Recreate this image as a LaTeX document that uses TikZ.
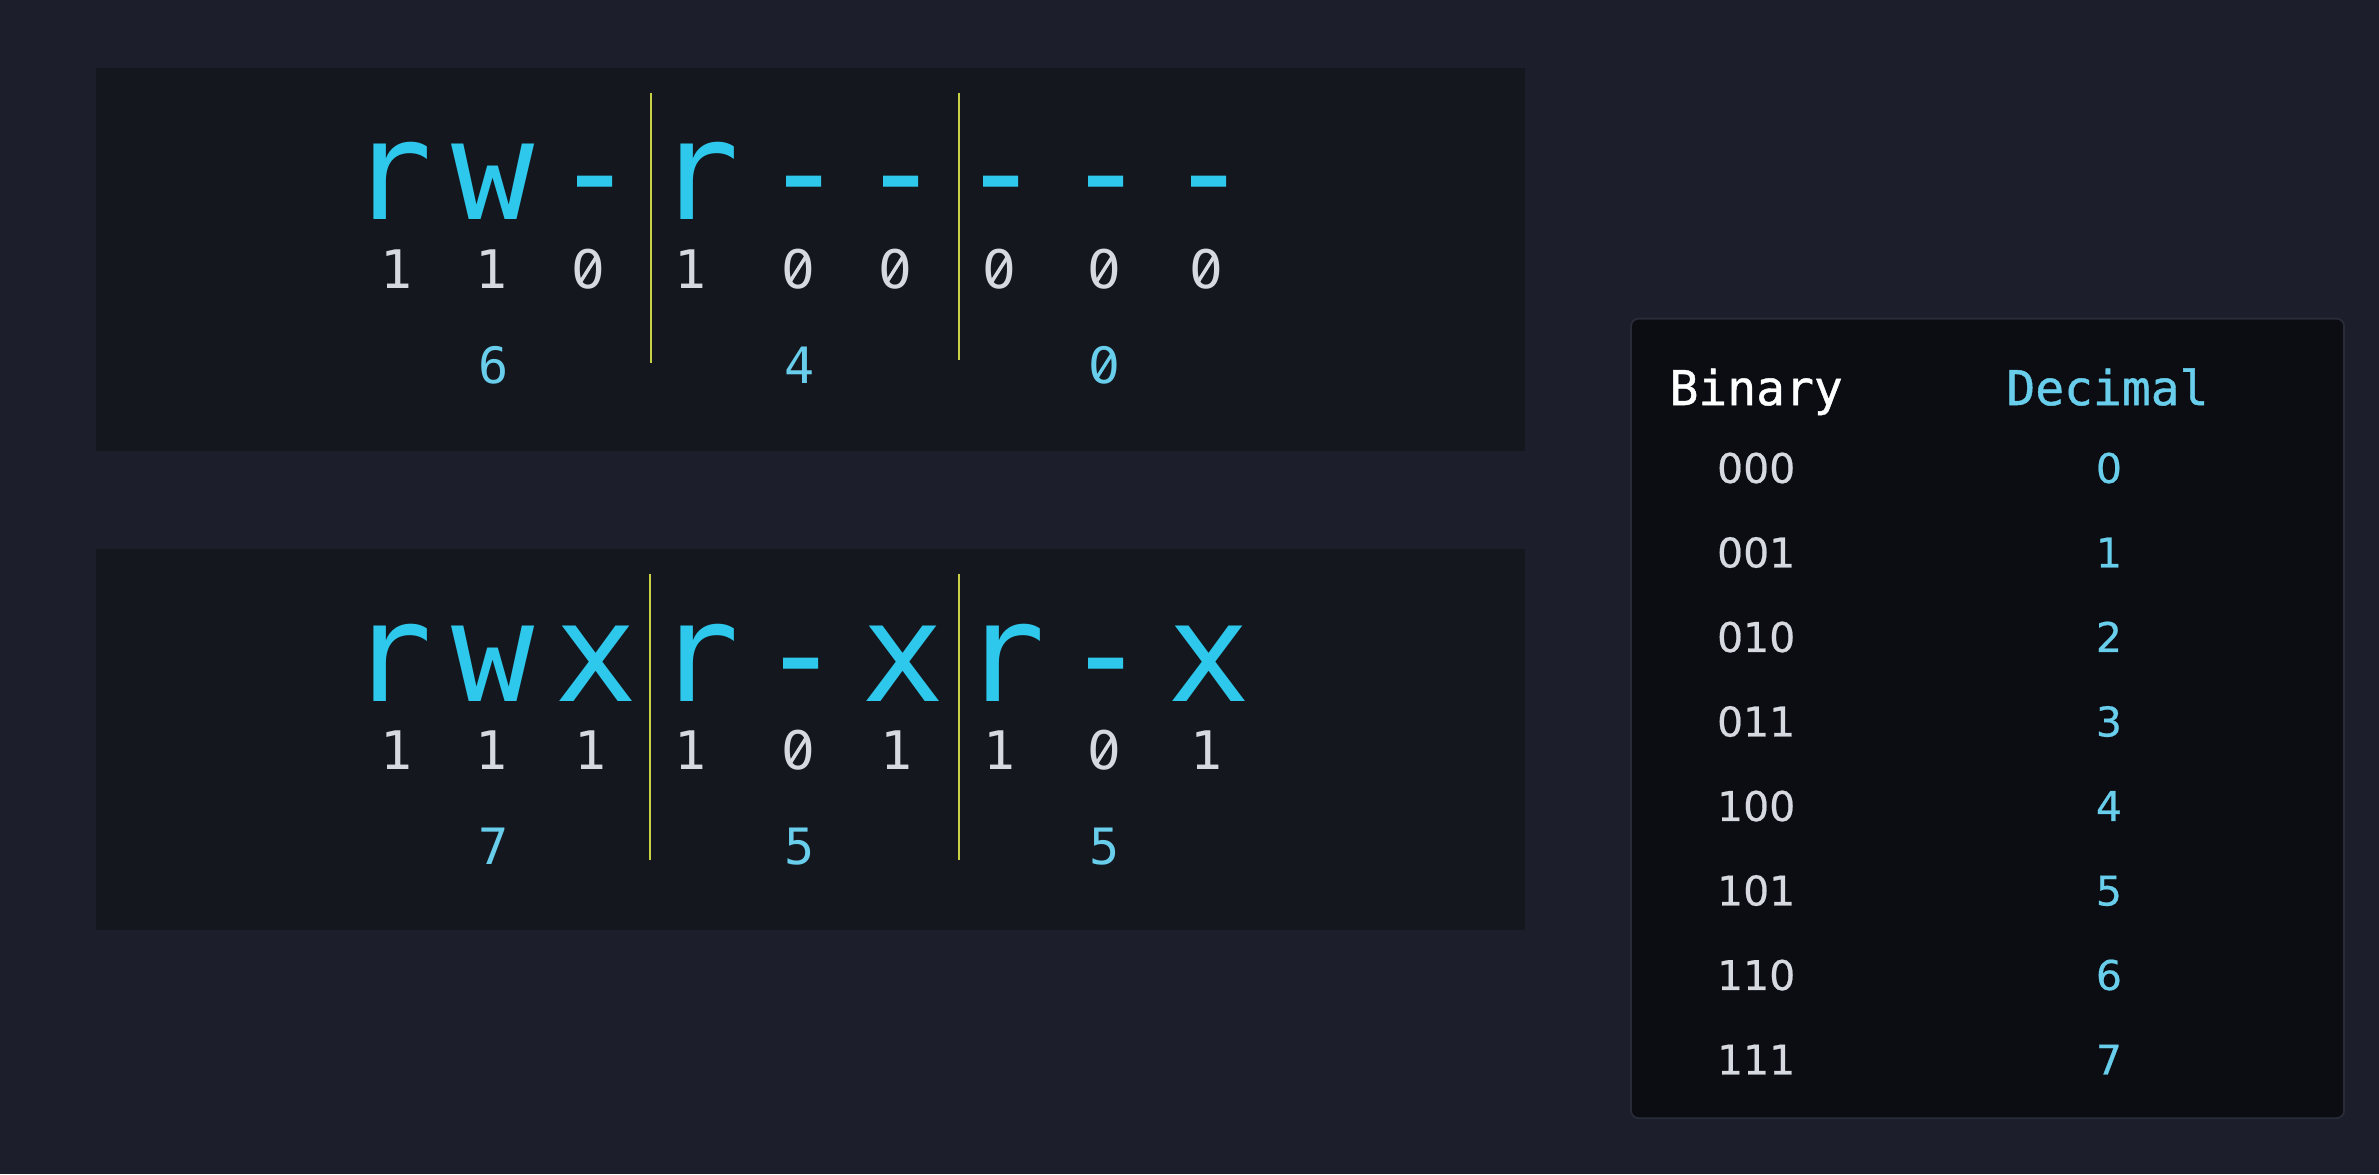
\documentclass[tikz,border=0pt]{standalone}
\usepackage{fontspec}
\newfontfamily\permfont{DejaVu Sans Mono}
\newfontfamily\headfont[FakeBold=0.9]{DejaVu Sans Mono}
\newfontfamily\tabfont{DejaVu Sans}
\newfontfamily\tabdigitfont[FakeBold=0.5]{DejaVu Sans}
\definecolor{bgc}{RGB}{28,31,43}
\definecolor{panelc}{RGB}{20,23,30}
\definecolor{tablec}{RGB}{11,13,18}
\definecolor{tableborder}{RGB}{40,44,55}
\definecolor{permc}{RGB}{45,200,235}
\definecolor{bitc}{RGB}{214,218,224}
\definecolor{decc}{RGB}{104,206,236}
\definecolor{divc}{RGB}{200,208,70}
\tikzset{
  permletter/.style={font=\permfont\fontsize{45.5}{46}\selectfont, text=permc, inner sep=0pt, anchor=base},
  bitdigit/.style={font=\permfont\fontsize{17.5}{18}\selectfont, text=bitc, inner sep=0pt, anchor=base},
  decdigit/.style={font=\permfont\fontsize{16.5}{17}\selectfont, text=decc, inner sep=0pt, anchor=base},
  divline/.style={draw=divc, line width=0.55pt},
  bitslash/.style={draw=bitc, line width=1.15pt},
  decslash/.style={draw=decc, line width=1.1pt},
  tabhead/.style={font=\headfont\fontsize{15.8}{16}\selectfont, inner sep=0pt, anchor=base},
  tabbin/.style={font=\tabdigitfont\fontsize{13.5}{14}\selectfont, text=bitc, inner sep=0pt, anchor=base},
  tabdec/.style={font=\tabdigitfont\fontsize{13.5}{14}\selectfont, text=decc, inner sep=0pt, anchor=base},
}
\newcommand\bitglyph[1]{\ifnum#1=0 {\tabfont 0}\else 1\fi}
\begin{document}
\begin{tikzpicture}[x={(0.5pt,0)}, y={(0,-0.5pt)}]
\useasboundingbox (0,0) rectangle (1568,774);
\fill[bgc] (0,0) rectangle (1568,774);
% panels
\fill[panelc] (63,45) rectangle (1005,297);
\fill[panelc] (63,362) rectangle (1005,613);
\draw[fill=tablec, draw=tableborder, line width=0.6pt, rounded corners=2.5pt] (1075,210) rectangle (1545,737);
% panel 1
\foreach \ch [count=\i] in {r,w,-,r,-,-,-,-,-}{
  \pgfmathsetmacro{\xx}{{0,258,325,392,460,530,594,660,729,797}[\i]}
  \node[permletter] (pa\i) at (\xx,145) {\ch};
}
\foreach \b [count=\i] in {1,1,0,1,0,0,0,0,0}{
  \pgfmathsetmacro{\xx}{{0,261,324,388,455,526,590,659,728,795}[\i]}
  \node[bitdigit] (ba\i) at (\xx,190) {\bitglyph{\b}};
}
\node[decdigit] (da1) at (325,253) {6};
\node[decdigit] (da2) at (527,253) {4};
\node[decdigit] (da3) at (728,253) {\tabfont 0};
\coordinate (va1t) at (429,61);
\coordinate (va1b) at (429,239);
\coordinate (va2t) at (632,61);
\coordinate (va2b) at (632,237);
\draw[divline] (va1t) -- (va1b);
\draw[divline] (va2t) -- (va2b);
% panel 2
\foreach \ch [count=\i] in {r,w,x,r,-,x,r,-,x}{
  \pgfmathsetmacro{\xx}{{0,258,325,393,460,528,595,662,729,797}[\i]}
  \node[permletter] (pb\i) at (\xx,462.5) {\ch};
}
\foreach \b [count=\i] in {1,1,1,1,0,1,1,0,1}{
  \pgfmathsetmacro{\xx}{{0,261,324,389,455,526,591,659,728,795}[\i]}
  \node[bitdigit] (bb\i) at (\xx,507.5) {\bitglyph{\b}};
}
\node[decdigit] (db1) at (325,570) {7};
\node[decdigit] (db2) at (527,570) {5};
\node[decdigit] (db3) at (728,570) {5};
\coordinate (vb1t) at (428.5,378);
\coordinate (vb1b) at (428.5,567);
\coordinate (vb2t) at (632,378);
\coordinate (vb2b) at (632,567);
\draw[divline] (vb1t) -- (vb1b);
\draw[divline] (vb2t) -- (vb2b);
% slashes through the zeros
\foreach \n in {ba3,ba5,ba6,ba7,ba8,ba9,bb5,bb8}{
  \draw[bitslash] (\n.center) ++(2.6pt,4.1pt) -- ++(-5.2pt,-8.2pt);
}
\draw[decslash] (da3.center) ++(2.45pt,3.85pt) -- ++(-4.9pt,-7.7pt);
% table
\node[tabhead, anchor=base west, text=white] (hbin) at (1100,267) {Binary};
\node[tabhead, text=decc] (hdec) at (1389,267) {Decimal};
\foreach \bn/\dn [count=\i] in {000/0,001/1,010/2,011/3,100/4,101/5,110/6,111/7}{
  \pgfmathsetmacro{\yy}{318.3+(\i-1)*55.7}
  \node[tabbin] (tb\i) at (1157.5,\yy) {\bn};
  \node[tabdec] (td\i) at (1390,\yy) {\dn};
}
\end{tikzpicture}
\end{document}
